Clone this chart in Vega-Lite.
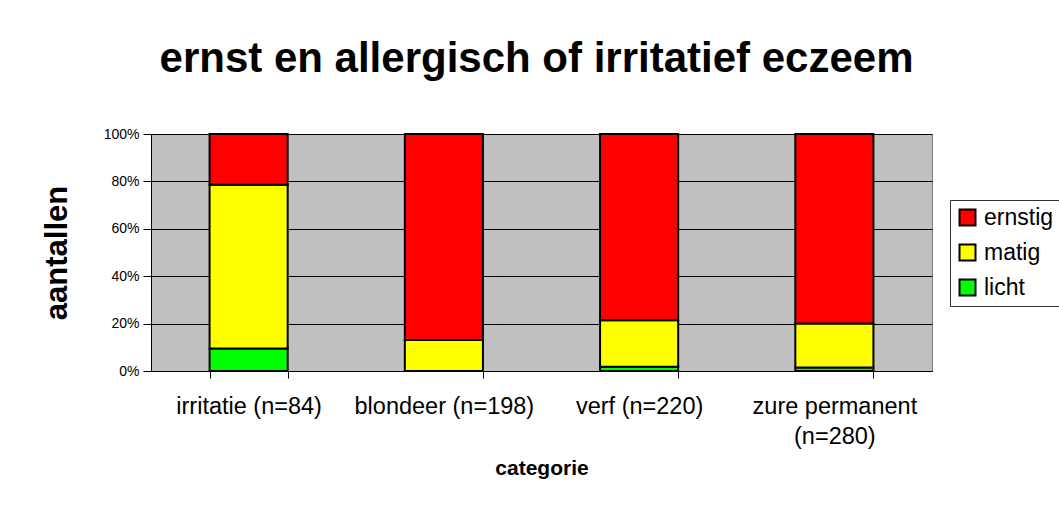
{
  "$schema": "https://vega.github.io/schema/vega-lite/v6.json",
  "width": 781,
  "height": 237,
  "autosize": "none",
  "padding": {"left": 151, "top": 134, "right": 127, "bottom": 135},
  "background": "white",
  "title": {
    "text": "ernst en allergisch of irritatief eczeem",
    "font": "Liberation Sans",
    "fontSize": 42,
    "fontWeight": "bold",
    "color": "black",
    "anchor": "middle",
    "dx": -5,
    "offset": 46
  },
  "data": {
    "values": [
      {"categorie": "irritatie (n=84)", "ernst": "licht", "aantal": 8},
      {"categorie": "irritatie (n=84)", "ernst": "matig", "aantal": 58},
      {"categorie": "irritatie (n=84)", "ernst": "ernstig", "aantal": 18},
      {"categorie": "blondeer (n=198)", "ernst": "licht", "aantal": 0},
      {"categorie": "blondeer (n=198)", "ernst": "matig", "aantal": 26},
      {"categorie": "blondeer (n=198)", "ernst": "ernstig", "aantal": 172},
      {"categorie": "verf (n=220)", "ernst": "licht", "aantal": 4},
      {"categorie": "verf (n=220)", "ernst": "matig", "aantal": 43},
      {"categorie": "verf (n=220)", "ernst": "ernstig", "aantal": 173},
      {"categorie": "zure permanent (n=280)", "ernst": "licht", "aantal": 4},
      {"categorie": "zure permanent (n=280)", "ernst": "matig", "aantal": 52},
      {"categorie": "zure permanent (n=280)", "ernst": "ernstig", "aantal": 224}
    ]
  },
  "transform": [
    {"calculate": "indexof(['licht','matig','ernstig'], datum.ernst)", "as": "volgorde"}
  ],
  "mark": {"type": "bar", "stroke": "black", "strokeWidth": 2},
  "encoding": {
    "x": {
      "field": "categorie",
      "type": "nominal",
      "sort": null,
      "scale": {"paddingInner": 0.6, "paddingOuter": 0.3},
      "axis": {
        "title": "categorie",
        "titleFont": "Liberation Sans",
        "titleFontSize": 21,
        "titleFontWeight": "bold",
        "titleColor": "black",
        "titlePadding": 10,
        "labelAngle": 0,
        "labelFont": "Liberation Sans",
        "labelFontSize": 23.5,
        "labelColor": "black",
        "labelPadding": 16,
        "labelLineHeight": 30,
        "labelExpr": "datum.value == 'zure permanent (n=280)' ? ['zure permanent', '(n=280)'] : datum.value",
        "domainColor": "black",
        "domainWidth": 1,
        "tickColor": "black",
        "tickSize": 7,
        "tickWidth": 1,
        "tickBand": "extent",
        "grid": false
      }
    },
    "y": {
      "field": "aantal",
      "type": "quantitative",
      "aggregate": "sum",
      "stack": "normalize",
      "scale": {"domain": [0, 1], "nice": false},
      "axis": {
        "title": "aantallen",
        "titleFont": "Liberation Sans",
        "titleFontSize": 31,
        "titleFontWeight": "bold",
        "titleColor": "black",
        "titlePadding": 30,
        "values": [0, 0.2, 0.4, 0.6, 0.8, 1],
        "format": ".0%",
        "labelFont": "Liberation Sans",
        "labelFontSize": 14,
        "labelColor": "black",
        "labelPadding": 4,
        "domainColor": "black",
        "tickColor": "black",
        "tickSize": 8,
        "gridColor": "black",
        "gridWidth": 1,
        "gridOpacity": 1
      }
    },
    "color": {
      "field": "ernst",
      "type": "nominal",
      "scale": {
        "domain": ["ernstig", "matig", "licht"],
        "range": ["#FF0000", "#FFFF00", "#00FF00"]
      },
      "legend": {
        "title": null,
        "orient": "none",
        "legendX": 799,
        "legendY": 66,
        "strokeColor": "#333333",
        "fillColor": "white",
        "padding": 6,
        "symbolType": "square",
        "symbolSize": 256,
        "symbolStrokeColor": "black",
        "symbolStrokeWidth": 2,
        "symbolOpacity": 1,
        "labelFont": "Liberation Sans",
        "labelFontSize": 23,
        "labelColor": "black",
        "labelOffset": 5,
        "rowPadding": 10
      }
    },
    "order": {"field": "volgorde", "type": "quantitative"}
  },
  "config": {
    "view": {"fill": "#C0C0C0", "stroke": "#808080", "strokeWidth": 1}
  }
}
